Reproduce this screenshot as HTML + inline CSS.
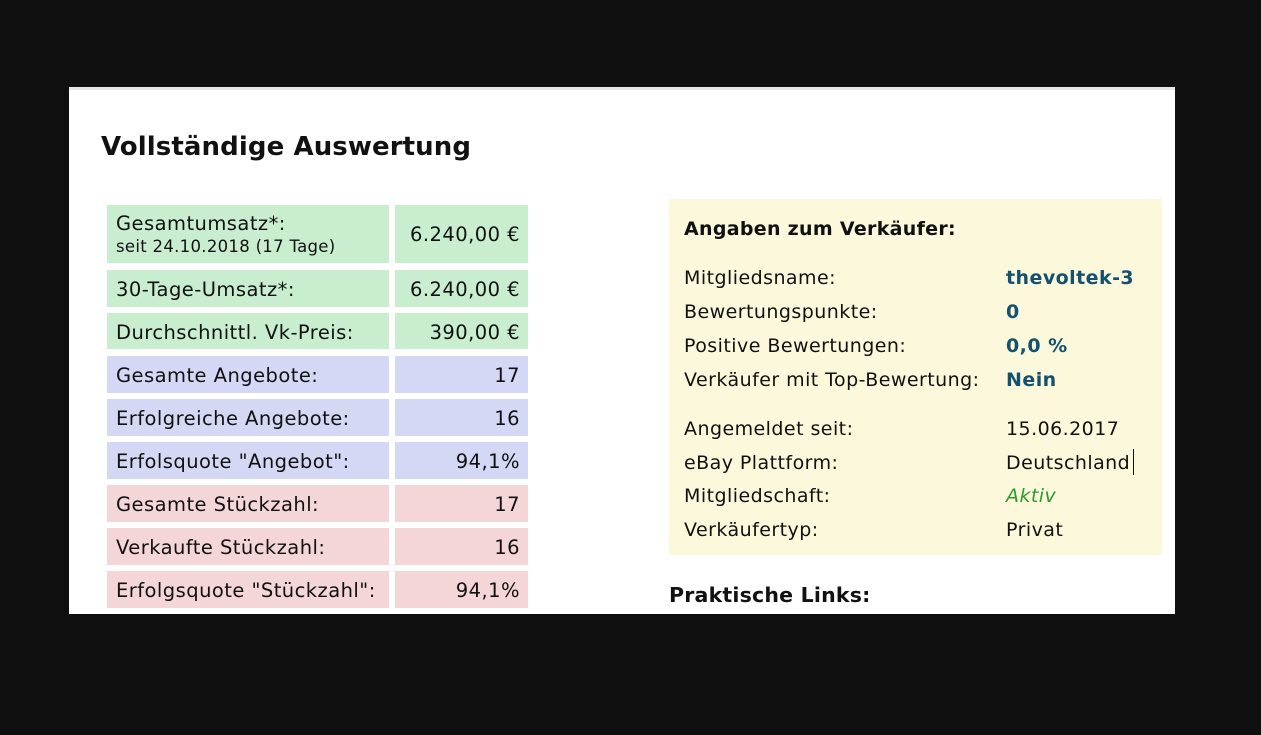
<!DOCTYPE html>
<html><head><meta charset="utf-8"><style>
html,body{margin:0;padding:0;background:#0f0f0f;width:1261px;height:735px;overflow:hidden;font-family:"DejaVu Sans",Verdana,sans-serif;color:#111}
.a{position:absolute;white-space:nowrap}
#panel{position:absolute;left:69px;top:87px;width:1106px;height:527px;background:#fff;border-top:3px solid #e6e6e6;box-sizing:border-box}
.c{position:absolute;box-sizing:border-box;font-size:19.5px;letter-spacing:0.45px;line-height:39px;white-space:nowrap}
.g{background:#c9eecf}.b{background:#d5d8f4}.p{background:#f4d6d8}
.l{left:107px;width:282px;padding-left:9px}
.v{left:395px;width:133px;text-align:right;padding-right:8px}
.rl{position:absolute;left:684px;font-size:19px;letter-spacing:0.45px;line-height:26px;white-space:nowrap}
.rv{position:absolute;left:1006px;font-size:19px;letter-spacing:0.45px;line-height:26px;white-space:nowrap}
.bv{color:#14506f;font-weight:bold}
</style></head><body>
<div id="panel"></div>
<div class="a" style="left:101px;top:131px;font-size:26px;letter-spacing:0.1px;font-weight:bold;line-height:32px">Vollständige Auswertung</div>

<div class="c g l" style="top:205px;height:58px;line-height:22px;padding-top:8px">Gesamtumsatz*:<br><span style="font-size:16.5px;letter-spacing:0.3px">seit 24.10.2018 (17 Tage)</span></div>
<div class="c g v" style="top:205px;height:58px;line-height:60px">6.240,00 €</div>
<div class="c g l" style="top:270px;height:37px">30-Tage-Umsatz*:</div>
<div class="c g v" style="top:270px;height:37px">6.240,00 €</div>
<div class="c g l" style="top:313px;height:36px">Durchschnittl. Vk-Preis:</div>
<div class="c g v" style="top:313px;height:36px">390,00 €</div>
<div class="c b l" style="top:356px;height:37px">Gesamte Angebote:</div>
<div class="c b v" style="top:356px;height:37px">17</div>
<div class="c b l" style="top:399px;height:37px">Erfolgreiche Angebote:</div>
<div class="c b v" style="top:399px;height:37px">16</div>
<div class="c b l" style="top:442px;height:37px">Erfolsquote "Angebot":</div>
<div class="c b v" style="top:442px;height:37px">94,1%</div>
<div class="c p l" style="top:485px;height:37px">Gesamte Stückzahl:</div>
<div class="c p v" style="top:485px;height:37px">17</div>
<div class="c p l" style="top:528px;height:37px">Verkaufte Stückzahl:</div>
<div class="c p v" style="top:528px;height:37px">16</div>
<div class="c p l" style="top:571px;height:37px">Erfolgsquote "Stückzahl":</div>
<div class="c p v" style="top:571px;height:37px">94,1%</div>

<div class="a" style="left:669px;top:199px;width:493px;height:356px;background:#fbf8dc"></div>
<div class="rl" style="top:216px;font-weight:bold;letter-spacing:0.3px">Angaben zum Verkäufer:</div>
<div class="rl" style="top:265px">Mitgliedsname:</div><div class="rv bv" style="top:265px">thevoltek-3</div>
<div class="rl" style="top:299px">Bewertungspunkte:</div><div class="rv bv" style="top:299px">0</div>
<div class="rl" style="top:333px">Positive Bewertungen:</div><div class="rv bv" style="top:333px">0,0 %</div>
<div class="rl" style="top:367px">Verkäufer mit Top-Bewertung:</div><div class="rv bv" style="top:367px">Nein</div>
<div class="rl" style="top:416px">Angemeldet seit:</div><div class="rv" style="top:416px">15.06.2017</div>
<div class="rl" style="top:450px">eBay Plattform:</div><div class="rv" style="top:450px">Deutschland</div>
<div class="a" style="left:1133px;top:449px;width:1px;height:26px;background:#111"></div>
<div class="rl" style="top:483px">Mitgliedschaft:</div><div class="rv" style="top:483px;color:#2e9a2e;font-style:italic">Aktiv</div>
<div class="rl" style="top:517px">Verkäufertyp:</div><div class="rv" style="top:517px">Privat</div>
<div class="a" style="left:669px;top:582px;font-size:20.5px;letter-spacing:0.2px;font-weight:bold;line-height:26px">Praktische Links:</div>
</body></html>
